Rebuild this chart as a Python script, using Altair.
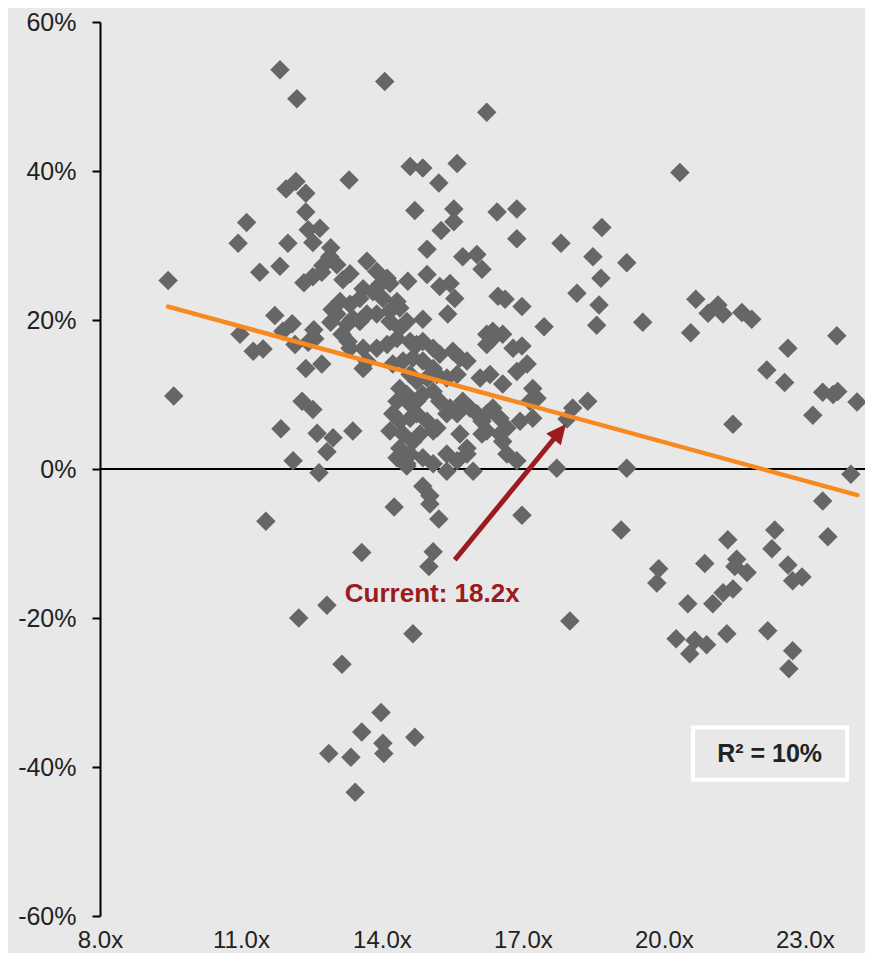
import altair as alt
import pandas as pd

# ---- data (P/E multiple, forward return %) ----
pe = [9.45, 9.57, 11.12, 10.94, 11.40, 11.83, 10.98, 11.26, 11.47, 11.72, 12.09, 11.89, 12.15, 11.53,
      11.83, 12.19, 11.85, 12.11, 12.23, 11.96, 12.17, 12.38, 12.38, 12.00, 12.43, 12.68, 12.53, 12.91,
      12.89, 12.74, 13.04, 12.53, 12.72, 12.34, 13.17, 13.32, 13.11, 13.32, 12.94, 13.04, 12.91, 13.26,
      12.55, 13.15, 13.28, 13.32, 12.43, 12.57, 12.38, 12.72, 12.30, 12.53, 12.62, 12.96, 12.83, 12.66,
      13.38, 13.30, 14.26, 13.57, 12.83, 14.66, 13.15, 13.98, 13.57, 14.02, 14.04, 14.70, 12.87, 13.34,
      13.43, 15.02, 15.02, 15.21, 16.98, 15.09, 15.00, 18.00, 14.87, 14.53, 14.06, 16.23, 14.60, 14.87,
      15.60, 15.21, 14.70, 15.53, 15.53, 15.26, 16.45, 16.87, 16.87, 17.81, 18.68, 18.49, 19.21, 18.66,
      18.15, 18.62, 18.57, 19.55, 20.34, 17.45, 14.96, 13.68, 13.89, 14.11, 14.17, 13.96, 13.81, 13.60,
      13.53, 14.55, 14.96, 15.72, 16.02, 16.13, 15.23, 15.45, 15.55, 16.47, 16.62, 16.98, 14.02, 14.32,
      14.38, 14.17, 15.40, 13.38, 13.53, 13.68, 13.89, 14.17, 14.38, 14.53, 14.87, 16.23, 16.36, 16.57,
      16.79, 16.98, 16.23, 16.34, 13.60, 13.89, 14.11, 14.32, 14.60, 14.74, 14.87, 15.09, 15.23, 15.51,
      15.66, 15.81, 13.60, 13.68, 14.23, 14.45, 14.66, 14.87, 15.09, 14.60, 14.74, 14.96, 15.17, 15.38,
      15.60, 16.09, 16.30, 16.57, 16.87, 17.09, 17.21, 17.30, 17.15, 14.38, 14.53, 14.32, 14.60, 14.74,
      14.87, 15.09, 15.23, 15.45, 15.38, 15.60, 14.23, 14.38, 14.60, 14.74, 14.96, 15.09, 15.17, 14.17,
      14.45, 14.66, 14.81, 14.38, 14.60, 15.72, 15.87, 16.02, 16.13, 16.36, 16.23, 16.51, 16.66, 16.23,
      16.13, 16.51, 16.57, 16.94, 17.21, 17.94, 18.06, 18.38, 14.32, 14.53, 14.87, 15.09, 15.38, 15.60,
      15.81, 15.94, 15.38, 16.66, 16.87, 17.72, 15.66, 15.81, 20.68, 20.57, 20.94, 21.15, 21.26, 21.66,
      21.87, 23.68, 22.64, 22.19, 22.57, 23.38, 23.70, 23.60, 24.11, 23.17, 21.47, 19.21, 23.98, 23.38,
      23.49, 19.09, 19.89, 19.85, 21.36, 22.36, 22.30, 20.87, 21.55, 21.51, 21.77, 22.64, 22.94, 22.74,
      21.26, 21.47, 21.04, 20.51, 20.26, 20.66, 20.91, 20.55, 21.34, 22.21, 22.74, 22.66]
ret = [25.3, 9.8, 33.1, 30.3, 26.4, 27.2, 18.1, 15.8, 16.1, 20.6, 19.5, 18.5, 16.7, -7.0,
       53.6, 49.7, 5.4, 1.1, -20.0, 37.6, 38.6, 37.0, 34.5, 30.3, 32.1, 32.3, 30.4, 29.7,
       28.5, 27.3, 27.4, 25.8, 26.4, 25.0, 25.4, 26.2, 22.5, 22.1, 21.4, 20.8, 19.7, 19.4,
       18.7, 18.1, 17.1, 16.2, 17.0, 17.5, 13.5, 14.1, 9.1, 8.0, 4.8, 4.2, 2.3, -0.5,
       5.1, 38.8, -5.1, -11.2, -18.3, -22.1, -26.2, -32.7, -35.3, -36.8, -38.2, -36.0, -38.2, -38.7,
       -43.4, -3.6, -4.7, -6.7, -6.2, -11.1, -13.1, -20.4, -2.3, 0.4, 52.0, 47.9, 40.6, 40.4,
       41.0, 38.4, 34.7, 34.9, 33.2, 32.0, 34.5, 34.9, 30.9, 30.3, 32.4, 28.5, 27.7, 25.6,
       23.6, 22.0, 19.3, 19.7, 39.8, 19.1, 29.5, 27.9, 26.5, 25.6, 24.9, 24.8, 23.8, 24.2,
       22.9, 25.2, 26.1, 28.5, 28.8, 26.8, 24.5, 24.9, 22.9, 23.2, 22.8, 21.8, 22.9, 22.5,
       21.6, 21.2, 20.8, 20.2, 19.8, 20.8, 20.8, 19.8, 18.9, 19.8, 20.1, 18.1, 18.5, 18.1,
       16.2, 16.5, 16.7, 17.4, 16.2, 16.2, 16.7, 17.5, 17.1, 16.7, 17.1, 16.2, 15.4, 15.8,
       14.9, 14.5, 13.5, 14.5, 14.1, 14.5, 14.9, 14.5, 13.5, 12.7, 11.8, 12.2, 12.7, 12.2,
       12.7, 12.2, 12.7, 11.4, 13.1, 14.1, 10.8, 9.5, 9.1, 10.8, 10.0, 9.1, 8.7, 9.1,
       10.0, 10.4, 9.1, 8.2, 7.4, 7.4, 7.4, 6.4, 6.8, 7.4, 6.4, 5.1, 5.5, 5.1,
       4.7, 3.7, 4.7, 2.8, 2.0, 9.1, 8.2, 7.4, 6.4, 8.2, 7.4, 6.8, 5.5, 5.1,
       4.7, 4.7, 3.7, 6.4, 6.8, 6.7, 8.2, 9.1, 1.5, 0.7, 1.5, 0.7, -0.3, 1.1,
       2.0, -0.3, 2.0, 2.0, 1.1, 0.1, 4.7, 2.8, 22.8, 18.3, 20.9, 22.0, 20.8, 21.0,
       20.1, 17.9, 16.2, 13.3, 11.6, 10.3, 10.4, 10.0, 9.0, 7.2, 6.0, 0.1, -0.7, -4.3,
       -9.1, -8.2, -13.4, -15.3, -9.5, -8.2, -10.7, -12.7, -12.1, -13.1, -13.9, -12.9, -14.5, -15.0,
       -16.6, -16.1, -18.1, -18.1, -22.8, -23.0, -23.6, -24.8, -22.1, -21.7, -24.4, -26.8]

x_ticks = [8, 11, 14, 17, 20, 23]
y_ticks = [-60, -40, -20, 0, 20, 40, 60]

trend_pe = [9.45, 24.12]
trend_ret = [21.8, -3.5]

arrow_pe = [15.55]
arrow_ret = [-12.2]
arrow_pe2 = [17.77]
arrow_ret2 = [4.9]

current_label = ["Current: 18.2x"]
current_pe = [15.07]
current_ret = [-16.8]

r2_label = ["R² = 10%"]
r2_pe = [22.25]
r2_ret = [-38.3]
r2_box_pe = [20.62]
r2_box_pe2 = [23.90]
r2_box_ret = [-34.7]
r2_box_ret2 = [-41.7]

# ---- styling ----
BG = "#e8e8e8"
DARK_RED = "#9b1b20"
ORANGE = "#f7891f"
TEXT = "#222222"

x_scale = alt.Scale(domain=[8, 24.28], nice=False, zero=False)
y_scale = alt.Scale(domain=[-60, 60], nice=False, zero=False)

x_axis = alt.Axis(values=x_ticks, labelExpr="format(datum.value, '.1f') + 'x'",
                  domain=False, ticks=False, tickSize=0, grid=False, labelPadding=12,
                  labelFont="Liberation Sans", labelFontSize=24, labelColor=TEXT,
                  labelFlush=False, labelOverlap=False, title=None)
y_axis = alt.Axis(values=y_ticks, labelExpr="datum.value + '%'",
                  domain=True, domainColor="black", domainWidth=2,
                  ticks=True, tickColor="black", tickWidth=2, tickSize=8,
                  grid=False, labelPadding=16, labelFont="Liberation Sans",
                  labelFontSize=25, labelColor=TEXT, labelOverlap=False, title=None)


def X(field):
    return alt.X(field, type="quantitative", scale=x_scale, axis=x_axis, title=None)


def Y(field):
    return alt.Y(field, type="quantitative", scale=y_scale, axis=y_axis, title=None)


points_df = pd.DataFrame({"pe": pe, "ret": ret})
points = alt.Chart(points_df).mark_point(
    shape="diamond", filled=True, size=380, color="#666666", opacity=1
).encode(x=X("pe"), y=Y("ret"))

zero = alt.Chart(pd.DataFrame({"ret": [0]})).mark_rule(
    color="black", strokeWidth=2
).encode(y=Y("ret"))

trend = alt.Chart(pd.DataFrame({"pe": trend_pe, "ret": trend_ret})).mark_line(
    color=ORANGE, strokeWidth=4.5, strokeCap="round"
).encode(x=X("pe"), y=Y("ret"))

arrow_df = pd.DataFrame({"pe": arrow_pe, "ret": arrow_ret, "pe2": arrow_pe2, "ret2": arrow_ret2})
arrow_line = alt.Chart(arrow_df).mark_rule(
    color=DARK_RED, strokeWidth=5
).encode(x=X("pe"), y=Y("ret"), x2="pe2", y2="ret2")

arrow_head = alt.Chart(pd.DataFrame({"pe": arrow_pe2, "ret": arrow_ret2})).mark_point(
    shape="M0,-1L0.85,0.8L-0.85,0.8Z", filled=True, size=484, color=DARK_RED,
    opacity=1, angle=39
).encode(x=X("pe"), y=Y("ret"))

current_txt = alt.Chart(pd.DataFrame({"pe": current_pe, "ret": current_ret, "t": current_label})).mark_text(
    font="Liberation Sans", fontSize=26, fontWeight="bold", color=DARK_RED,
    align="center", baseline="middle"
).encode(x=X("pe"), y=Y("ret"), text="t:N")

r2_box = alt.Chart(pd.DataFrame({"pe": r2_box_pe, "pe2": r2_box_pe2,
                                 "ret": r2_box_ret, "ret2": r2_box_ret2})).mark_rect(
    fill=BG, stroke="white", strokeWidth=4
).encode(x=X("pe"), x2="pe2", y=Y("ret"), y2="ret2")

r2_txt = alt.Chart(pd.DataFrame({"pe": r2_pe, "ret": r2_ret, "t": r2_label})).mark_text(
    font="Liberation Sans", fontSize=25, fontWeight="bold", color=TEXT,
    align="center", baseline="middle"
).encode(x=X("pe"), y=Y("ret"), text="t:N")

chart = alt.layer(
    zero, points, trend, arrow_line, arrow_head, current_txt, r2_box, r2_txt
).properties(
    width=765, height=894,
    autosize=alt.AutoSizeParams(type="none"),
    padding={"left": 92, "top": 14, "right": 0, "bottom": 37},
    background=BG,
).configure_view(stroke=None)

chart.save("out.html", embed_options={"renderer": "svg", "actions": False})
